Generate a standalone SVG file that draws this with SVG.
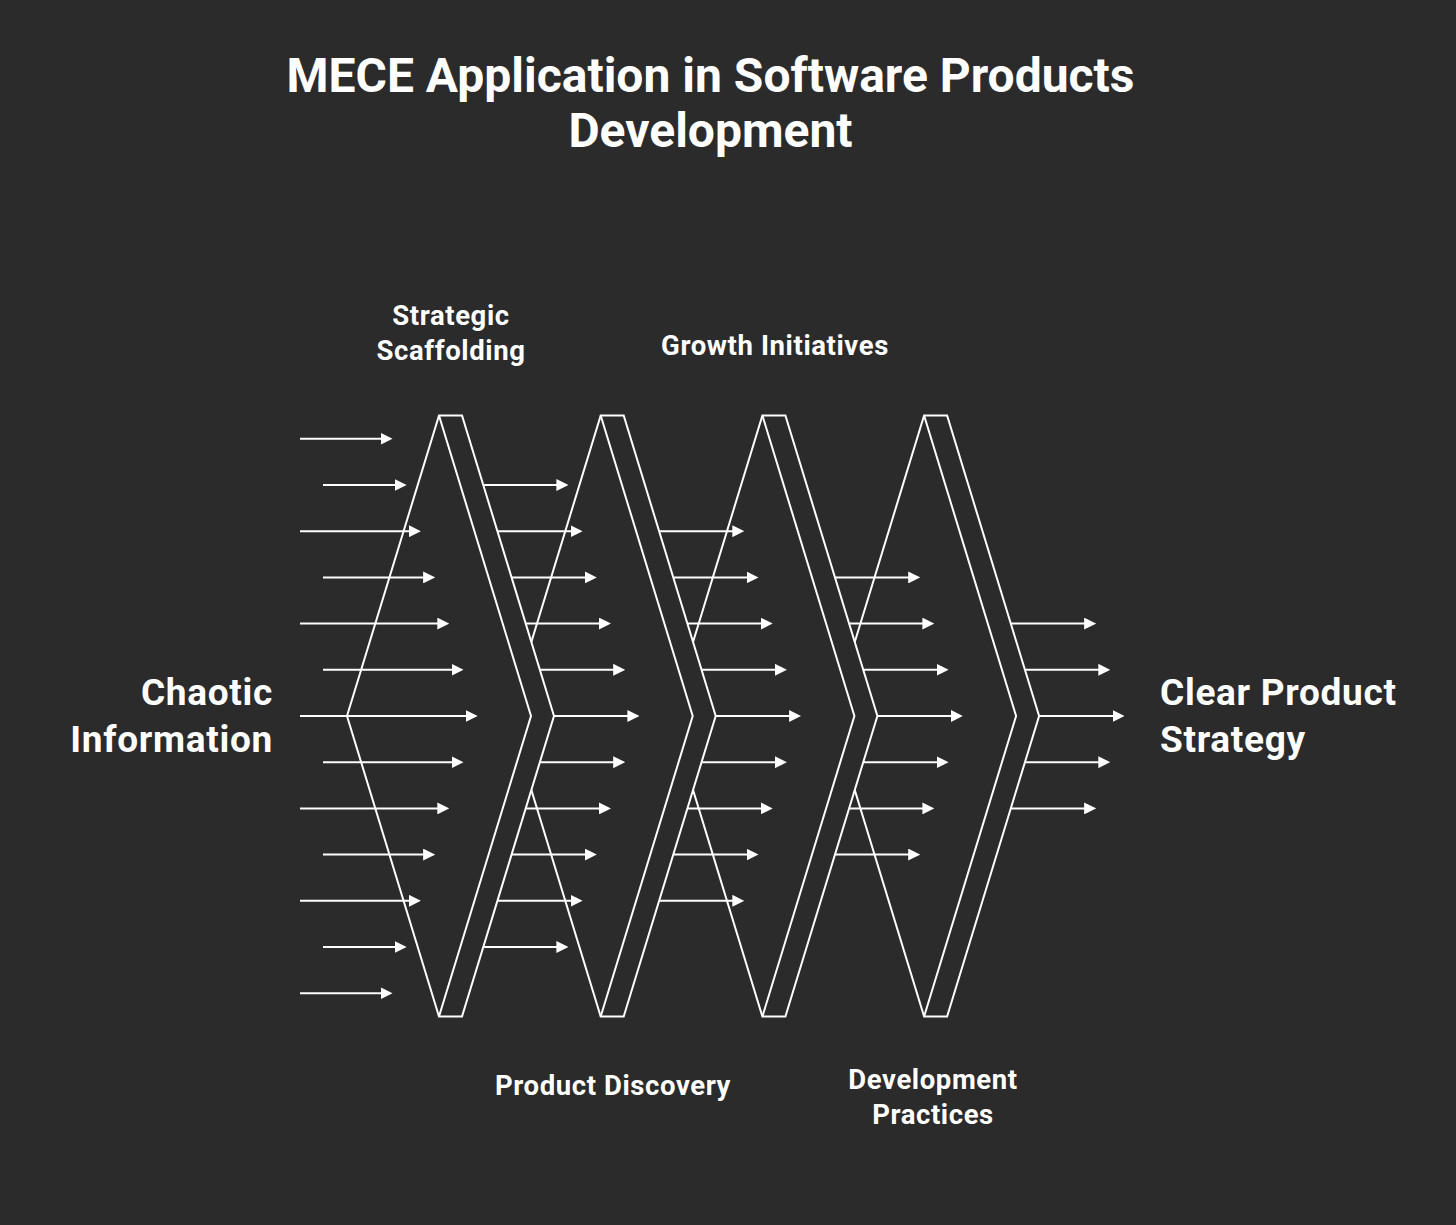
<svg xmlns="http://www.w3.org/2000/svg" width="1456" height="1225" viewBox="0 0 1456 1225">
<style>
.t{font-family:Roboto,"Liberation Sans",sans-serif;font-weight:700;fill:#ffffff}
.title{font-size:48px;text-anchor:middle}
.lbl{font-size:27.5px;letter-spacing:0.6px;text-anchor:middle}
.big{font-size:37px;letter-spacing:0.7px}
.chev{fill:#2b2b2b;stroke:#ffffff;stroke-width:2;stroke-linejoin:miter}
.inner{fill:none;stroke:#ffffff;stroke-width:2}
.arr line{stroke:#ffffff;stroke-width:2}
</style>
<defs>
<marker id="ah" markerUnits="userSpaceOnUse" markerWidth="12" markerHeight="12" refX="6" refY="6" orient="auto">
<path d="M0,0 L12,6 L0,12 Z" fill="#ffffff"/>
</marker>
<g id="chevShape">
<path class="chev" d="M347,716 L439,415.5 L462,415.5 L554,716 L462,1016.5 L439,1016.5 Z"/>
<path class="inner" d="M439,415.5 L531,716 L439,1016.5"/>
</g>
</defs>
<rect width="1456" height="1225" fill="#2b2b2b"/>
<g id="title">
<text class="t title" x="710.5" y="92">MECE Application in Software Products</text>
<text class="t title" x="710.5" y="147">Development</text>
</g>
<g id="chevron-development-practices"><use href="#chevShape" transform="translate(485.1,0)"/></g>
<g id="chevron-growth-initiatives"><use href="#chevShape" transform="translate(323.4,0)"/></g>
<g id="chevron-product-discovery"><use href="#chevShape" transform="translate(161.7,0)"/></g>
<g id="chevron-strategic-scaffolding"><use href="#chevShape"/></g>
<g id="connectors" class="arr">
<line x1="300" y1="438.8" x2="386.5" y2="438.8" marker-end="url(#ah)"/>
<line x1="323" y1="485" x2="400.7" y2="485" marker-end="url(#ah)"/>
<line x1="300" y1="531.2" x2="414.9" y2="531.2" marker-end="url(#ah)"/>
<line x1="323" y1="577.4" x2="429.1" y2="577.4" marker-end="url(#ah)"/>
<line x1="300" y1="623.6" x2="443.3" y2="623.6" marker-end="url(#ah)"/>
<line x1="323" y1="669.8" x2="457.5" y2="669.8" marker-end="url(#ah)"/>
<line x1="300" y1="716" x2="471.7" y2="716" marker-end="url(#ah)"/>
<line x1="323" y1="762.2" x2="457.5" y2="762.2" marker-end="url(#ah)"/>
<line x1="300" y1="808.4" x2="443.3" y2="808.4" marker-end="url(#ah)"/>
<line x1="323" y1="854.6" x2="429.1" y2="854.6" marker-end="url(#ah)"/>
<line x1="300" y1="900.8" x2="414.9" y2="900.8" marker-end="url(#ah)"/>
<line x1="323" y1="947" x2="400.7" y2="947" marker-end="url(#ah)"/>
<line x1="300" y1="993.2" x2="386.5" y2="993.2" marker-end="url(#ah)"/>

<line x1="483.3" y1="485" x2="562.4" y2="485" marker-end="url(#ah)"/>
<line x1="497.4" y1="531.2" x2="576.6" y2="531.2" marker-end="url(#ah)"/>
<line x1="511.6" y1="577.4" x2="590.8" y2="577.4" marker-end="url(#ah)"/>
<line x1="525.7" y1="623.6" x2="605" y2="623.6" marker-end="url(#ah)"/>
<line x1="539.9" y1="669.8" x2="619.2" y2="669.8" marker-end="url(#ah)"/>
<line x1="554" y1="716" x2="633.4" y2="716" marker-end="url(#ah)"/>
<line x1="539.9" y1="762.2" x2="619.2" y2="762.2" marker-end="url(#ah)"/>
<line x1="525.7" y1="808.4" x2="605" y2="808.4" marker-end="url(#ah)"/>
<line x1="511.6" y1="854.6" x2="590.8" y2="854.6" marker-end="url(#ah)"/>
<line x1="497.4" y1="900.8" x2="576.6" y2="900.8" marker-end="url(#ah)"/>
<line x1="483.3" y1="947" x2="562.4" y2="947" marker-end="url(#ah)"/>

<line x1="659.1" y1="531.2" x2="738.3" y2="531.2" marker-end="url(#ah)"/>
<line x1="673.3" y1="577.4" x2="752.5" y2="577.4" marker-end="url(#ah)"/>
<line x1="687.4" y1="623.6" x2="766.7" y2="623.6" marker-end="url(#ah)"/>
<line x1="701.6" y1="669.8" x2="780.9" y2="669.8" marker-end="url(#ah)"/>
<line x1="715.7" y1="716" x2="795.1" y2="716" marker-end="url(#ah)"/>
<line x1="701.6" y1="762.2" x2="780.9" y2="762.2" marker-end="url(#ah)"/>
<line x1="687.4" y1="808.4" x2="766.7" y2="808.4" marker-end="url(#ah)"/>
<line x1="673.3" y1="854.6" x2="752.5" y2="854.6" marker-end="url(#ah)"/>
<line x1="659.1" y1="900.8" x2="738.3" y2="900.8" marker-end="url(#ah)"/>

<line x1="835" y1="577.4" x2="914.2" y2="577.4" marker-end="url(#ah)"/>
<line x1="849.1" y1="623.6" x2="928.4" y2="623.6" marker-end="url(#ah)"/>
<line x1="863.3" y1="669.8" x2="942.6" y2="669.8" marker-end="url(#ah)"/>
<line x1="877.4" y1="716" x2="956.8" y2="716" marker-end="url(#ah)"/>
<line x1="863.3" y1="762.2" x2="942.6" y2="762.2" marker-end="url(#ah)"/>
<line x1="849.1" y1="808.4" x2="928.4" y2="808.4" marker-end="url(#ah)"/>
<line x1="835" y1="854.6" x2="914.2" y2="854.6" marker-end="url(#ah)"/>

<line x1="1010.8" y1="623.6" x2="1090.1" y2="623.6" marker-end="url(#ah)"/>
<line x1="1025" y1="669.8" x2="1104.3" y2="669.8" marker-end="url(#ah)"/>
<line x1="1039.1" y1="716" x2="1118.5" y2="716" marker-end="url(#ah)"/>
<line x1="1025" y1="762.2" x2="1104.3" y2="762.2" marker-end="url(#ah)"/>
<line x1="1010.8" y1="808.4" x2="1090.1" y2="808.4" marker-end="url(#ah)"/>
</g>
<g id="label-strategic-scaffolding">
<text class="t lbl" x="451" y="325">Strategic</text>
<text class="t lbl" x="451" y="360">Scaffolding</text>
</g>
<g id="label-growth-initiatives">
<text class="t lbl" x="775" y="355">Growth Initiatives</text>
</g>
<g id="label-product-discovery">
<text class="t lbl" x="613" y="1095">Product Discovery</text>
</g>
<g id="label-development-practices">
<text class="t lbl" x="933" y="1089">Development</text>
<text class="t lbl" x="933" y="1124">Practices</text>
</g>
<g id="node-chaotic-information">
<text class="t big" x="273" y="705" text-anchor="end">Chaotic</text>
<text class="t big" x="273" y="752" text-anchor="end">Information</text>
</g>
<g id="node-clear-product-strategy">
<text class="t big" x="1160" y="705">Clear Product</text>
<text class="t big" x="1160" y="752">Strategy</text>
</g>
</svg>
